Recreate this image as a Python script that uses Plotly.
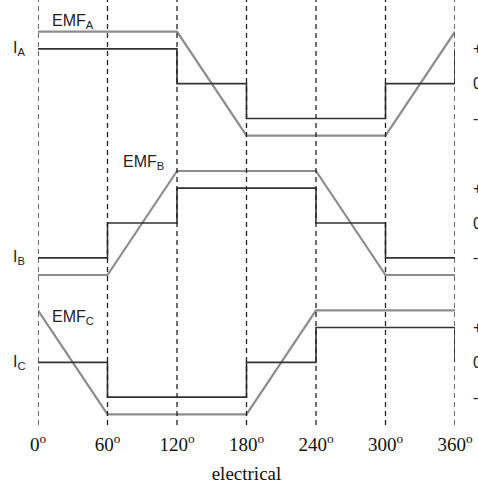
import plotly.graph_objects as go
from plotly.subplots import make_subplots

# ---- data ----
tick_angles = [0, 60, 120, 180, 240, 300, 360]
tick_labels = ["0<sup>o</sup>", "60<sup>o</sup>", "120<sup>o</sup>", "180<sup>o</sup>",
               "240<sup>o</sup>", "300<sup>o</sup>", "360<sup>o</sup>"]

emf_a_x = [0, 120, 180, 300, 360]
emf_a_y = [1, 1, -1, -1, 1]
cur_a_x = [0, 120, 180, 300, 360]
cur_a_y = [0.67, 0, -0.67, 0, 0.67]

emf_b_x = [0, 60, 120, 240, 300, 360]
emf_b_y = [-1, -1, 1, 1, -1, -1]
cur_b_x = [0, 60, 120, 240, 300, 360]
cur_b_y = [-0.67, 0, 0.67, 0, -0.67, -0.67]

emf_c_x = [0, 60, 180, 240, 360]
emf_c_y = [1, -1, -1, 1, 1]
cur_c_x = [0, 60, 180, 240, 360]
cur_c_y = [0, -0.67, 0, 0.67, 0]

emf_labels = ["EMF<sub>A</sub>", "EMF<sub>B</sub>", "EMF<sub>C</sub>"]
emf_label_x = [10, 72, 10]
emf_label_y = [1.19, 1.16, 0.87]
cur_labels = ["I<sub>A</sub>", "I<sub>B</sub>", "I<sub>C</sub>"]
cur_label_y = [0.67, -0.67, 0.0]
level_text = ["+", "0", "-"]
level_y = [0.67, 0.0, -0.67]

EMF_COLOR = "#8c8c8c"
CUR_COLOR = "#333333"
TXT = "#222222"
SANS = "Liberation Sans"

fig = make_subplots(rows=3, cols=1, shared_xaxes=True, vertical_spacing=0)

panels = [
    (emf_a_x, emf_a_y, cur_a_x, cur_a_y),
    (emf_b_x, emf_b_y, cur_b_x, cur_b_y),
    (emf_c_x, emf_c_y, cur_c_x, cur_c_y),
]
axis_ids = [("x", "y"), ("x2", "y2"), ("x3", "y3")]
for i, (ex, ey, cx, cy) in enumerate(panels):
    row = i + 1
    xr, yr = axis_ids[i]
    fig.add_trace(go.Scatter(x=ex, y=ey, mode="lines",
                             line=dict(color=EMF_COLOR, width=2.2),
                             showlegend=False, hoverinfo="skip"), row=row, col=1)
    fig.add_trace(go.Scatter(x=cx, y=cy, mode="lines", line_shape="hv",
                             line=dict(color=CUR_COLOR, width=1.6),
                             showlegend=False, hoverinfo="skip"), row=row, col=1)
    # EMF label
    fig.add_annotation(text=emf_labels[i], x=emf_label_x[i], y=emf_label_y[i],
                       xref=xr, yref=yr, showarrow=False, xanchor="left",
                       yanchor="middle", font=dict(family=SANS, size=16, color=TXT))
    # current label (left of the plot area)
    fig.add_annotation(text=cur_labels[i], x=-0.065, y=cur_label_y[i],
                       xref="paper", yref=yr, showarrow=False, xanchor="left",
                       yanchor="middle", font=dict(family=SANS, size=16, color=TXT))
    # level marks on the right (partially cut off by the page edge)
    for t, yv in zip(level_text, level_y):
        fig.add_annotation(text=t, x=1.038, y=yv, xref="paper", yref=yr,
                           showarrow=False, xanchor="left", yanchor="middle",
                           font=dict(family=SANS, size=16, color=TXT))

YR = [-1.34, 1.34]
domains = [[2/3, 1], [1/3, 2/3], [0, 1/3]]
for i, d in enumerate(domains, start=1):
    fig.update_yaxes(range=YR, domain=d, visible=False, automargin=False, row=i, col=1)
    fig.update_xaxes(range=[0, 360], showgrid=False, zeroline=False,
                     showline=False, automargin=False, row=i, col=1)

fig.update_xaxes(showticklabels=False, ticks="", row=1, col=1)
fig.update_xaxes(showticklabels=False, ticks="", row=2, col=1)
fig.update_xaxes(tickmode="array", tickvals=tick_angles, ticktext=tick_labels,
                 ticks="", showticklabels=True, ticklabelstandoff=-1,
                 tickfont=dict(family="Liberation Serif", size=19, color="#111"),
                 title=dict(text="electrical", standoff=12,
                            font=dict(family="Liberation Serif", size=19, color="#111")),
                 row=3, col=1)

# vertical dashed lines
for a in tick_angles:
    fig.add_shape(type="line", xref="x3", yref="paper", x0=a, x1=a,
                  y0=0.017, y1=1.04,
                  line=dict(color="#222", width=1.3, dash="5px,4px"))

fig.update_layout(width=478, height=489,
                  margin=dict(l=38, r=23, t=14, b=57, autoexpand=False),
                  plot_bgcolor="white", paper_bgcolor="white")

fig.write_html("out.html")
